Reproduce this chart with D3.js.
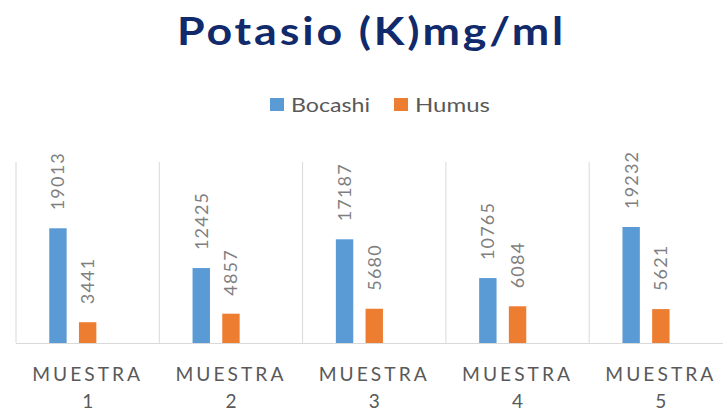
<!DOCTYPE html>
<html><head><meta charset="utf-8">
<script src="https://cdn.jsdelivr.net/npm/d3@7"></script>
<style>html,body{margin:0;padding:0;background:#fff;}svg{display:block;}</style>
</head><body>
<script>
const title = "Potasio (K)mg/ml";
const categories = ["MUESTRA 1","MUESTRA 2","MUESTRA 3","MUESTRA 4","MUESTRA 5"];
const seriesNames = ["Bocashi","Humus"];
const bocashi = [19013,12425,17187,10765,19232];
const humus = [3441,4857,5680,6084,5621];
const colors = ["#5b9bd5","#ed7d31"];
const yMax = 30000;

const W = 723, H = 414;
const svg = d3.select("body").append("svg").attr("width",W).attr("height",H);
const font = "Lato, 'Open Sans', sans-serif";

const plotL = 16, plotTop = 162, plotBottom = 343, catW = 143.3;
const x = d3.scaleBand().domain(categories).range([plotL, plotL + catW*categories.length]).padding(0);
const inner = d3.scaleBand().domain(["Bocashi","Humus","_"]).range([0, catW]).paddingInner(0.414).paddingOuter(1.12);
const y = d3.scaleLinear().domain([0,yMax]).range([plotBottom, plotTop]);

// title
svg.append("text").attr("x",371.5).attr("y",45).attr("text-anchor","middle")
  .attr("font-family",font).attr("font-weight","bold").attr("font-size",39).attr("letter-spacing",2.5)
  .attr("fill","#112a6b").attr("textLength",389).attr("lengthAdjust","spacingAndGlyphs").text(title);

// legend
const legendItems = [{name:"Bocashi",c:colors[0],x:270,w:79},{name:"Humus",c:colors[1],x:394,w:75}];
legendItems.forEach(d=>{
  svg.append("rect").attr("x",d.x).attr("y",98).attr("width",14).attr("height",13).attr("fill",d.c);
  svg.append("text").attr("x",d.x+21).attr("y",112).attr("font-family",font).attr("font-size",20)
    .attr("textLength",d.w).attr("lengthAdjust","spacingAndGlyphs").attr("fill","#595959").text(d.name);
});

// gridlines: category separators
const g = svg.append("g");
const bounds = categories.map(c=>x(c)).concat([x(categories[categories.length-1])+x.bandwidth()]);
g.selectAll("line.sep").data(bounds).join("line")
  .attr("x1",d=>d).attr("x2",d=>d).attr("y1",plotTop).attr("y2",plotBottom)
  .attr("stroke","#d9d9d9").attr("stroke-width",1);
g.append("line").attr("x1",plotL).attr("x2",W).attr("y1",plotBottom+0.5).attr("y2",plotBottom+0.5)
  .attr("stroke","#d9d9d9").attr("stroke-width",1.2);

// bars
const data = [];
categories.forEach((c,i)=>{
  data.push({cat:c,s:"Bocashi",v:bocashi[i],col:colors[0]});
  data.push({cat:c,s:"Humus",v:humus[i],col:colors[1]});
});
svg.selectAll("rect.bar").data(data).join("rect").attr("class","bar")
  .attr("x",d=>x(d.cat)+inner(d.s)).attr("width",inner.bandwidth())
  .attr("y",d=>y(d.v)).attr("height",d=>plotBottom-y(d.v)).attr("fill",d=>d.col);

// value labels (rotated)
svg.selectAll("text.val").data(data).join("text").attr("class","val")
  .attr("transform",d=>`translate(${x(d.cat)+inner(d.s)+inner.bandwidth()/2},${y(d.v)-18}) rotate(-90)`)
  .attr("dy","0.36em").attr("font-family",font).attr("font-size",18).attr("letter-spacing",1.2)
  .attr("fill","#7f7f7f").text(d=>d.v);

// category labels
const cl = svg.selectAll("g.cl").data(categories).join("g").attr("class","cl")
  .attr("transform",c=>`translate(${x(c)+x.bandwidth()/2},0)`);
cl.append("text").attr("x",0).attr("y",381).attr("text-anchor","middle").attr("font-family",font)
  .attr("font-size",19).attr("letter-spacing",3).attr("textLength",111).attr("lengthAdjust","spacingAndGlyphs")
  .attr("fill","#595959").text(c=>c.split(" ")[0]);
cl.append("text").attr("x",0).attr("y",408).attr("text-anchor","middle").attr("font-family",font)
  .attr("font-size",19).attr("fill","#595959").text(c=>c.split(" ")[1]);
</script>
</body></html>
